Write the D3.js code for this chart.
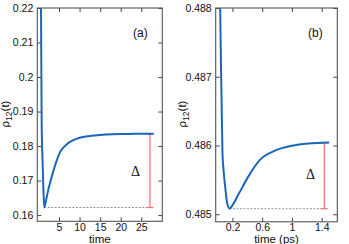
<!DOCTYPE html>
<html>
<head>
<meta charset="utf-8">
<script src="https://cdn.jsdelivr.net/npm/d3@7"></script>
<style>
body { margin: 0; background: #fff; }
svg text { font-family: "Liberation Sans", Arial, sans-serif; fill: #111; }
</style>
</head>
<body>
<div id="chart"></div>
<script>
// panel (a)
var timeA = [0.3, 0.62, 0.7, 0.8, 1.0, 1.2, 1.43, 1.8, 2.3, 2.8, 3.4, 4.0, 4.6, 5.2, 6.0, 6.9, 8, 10, 12.5, 15, 18, 22, 25, 28];
var rhoA  = [0.30, 0.2226, 0.205, 0.186, 0.176, 0.168, 0.1622, 0.1640, 0.1668, 0.1692, 0.1718, 0.1742, 0.1763, 0.1781, 0.1795, 0.1805, 0.1814, 0.1824, 0.1829, 0.1832, 0.1834, 0.1835, 0.1836, 0.1836];
var xTicksA = [5, 10, 15, 20, 25];
var yTicksA = [0.16, 0.17, 0.18, 0.19, 0.2, 0.21, 0.22];
var deltaA = {t: 27.1, top: 0.1835, bottom: 0.1622, tmin: 1.43};

// panel (b)
var timeB = [0.0, 0.035, 0.066, 0.084, 0.102, 0.129, 0.16, 0.2, 0.28, 0.415, 0.572, 0.773, 1.0, 1.22, 1.5];
var rhoB  = [0.4905, 0.4880, 0.48589, 0.48560, 0.485406, 0.485165, 0.485083, 0.48513, 0.485286, 0.485551, 0.485794, 0.485925, 0.485997, 0.48603, 0.486045];
var xTicksB = [0.2, 0.6, 1, 1.4];
var yTicksB = [0.485, 0.486, 0.487, 0.488];
var deltaB = {t: 1.435, top: 0.48604, bottom: 0.48508, tmin: 0.16};

const width = 349, height = 244;

const svg = d3.select("#chart").append("svg")
    .attr("width", width)
    .attr("height", height);

function panel(opt) {
    var x = d3.scaleLinear().domain(opt.xdom).range([opt.left, opt.right]);
    var y = d3.scaleLinear().domain(opt.ydom).range([opt.bottom, opt.top]);
    var g = svg.append("g");

    g.append("clipPath").attr("id", opt.id)
        .append("rect")
        .attr("x", opt.left).attr("y", opt.top)
        .attr("width", opt.right - opt.left).attr("height", opt.bottom - opt.top);

    // axes, ticks pointing inward
    var bottom = g.append("g").attr("transform", "translate(0," + opt.bottom + ")")
        .call(d3.axisBottom(x).tickValues(opt.xticks).tickSizeInner(-4).tickSizeOuter(0).tickPadding(2).tickFormat(d3.format("")));
    var topAx = g.append("g").attr("transform", "translate(0," + opt.top + ")")
        .call(d3.axisTop(x).tickValues(opt.xticks).tickSizeInner(-4).tickSizeOuter(0).tickFormat(""));
    var leftAx = g.append("g").attr("transform", "translate(" + opt.left + ",0)")
        .call(d3.axisLeft(y).tickValues(opt.yticks).tickSizeInner(-4).tickSizeOuter(0).tickPadding(4).tickFormat(d3.format("")));
    var rightAx = g.append("g").attr("transform", "translate(" + opt.right + ",0)")
        .call(d3.axisRight(y).tickValues(opt.yticks).tickSizeInner(-4).tickSizeOuter(0).tickFormat(""));

    [bottom, topAx, leftAx, rightAx].forEach(function(a) {
        a.select(".domain").remove();
        a.selectAll("line").attr("stroke", "#444");
        a.selectAll("text").style("font-size", "10.5px").attr("fill", "#111");
    });

    g.append("rect")
        .attr("x", opt.left).attr("y", opt.top)
        .attr("width", opt.right - opt.left).attr("height", opt.bottom - opt.top)
        .attr("fill", "none").attr("stroke", "#555").attr("stroke-width", 1.1);

    // dashed baseline at the minimum
    g.append("line")
        .attr("x1", x(opt.delta.tmin)).attr("x2", x(opt.delta.t))
        .attr("y1", y(opt.delta.bottom)).attr("y2", y(opt.delta.bottom))
        .attr("stroke", "#888").attr("stroke-width", 0.9).attr("stroke-dasharray", "2,1.5");

    // Delta bar
    var red = "#f27580";
    g.append("line")
        .attr("x1", x(opt.delta.t)).attr("x2", x(opt.delta.t))
        .attr("y1", y(opt.delta.top)).attr("y2", y(opt.delta.bottom))
        .attr("stroke", red).attr("stroke-width", 1.3);
    [opt.delta.top, opt.delta.bottom].forEach(function(v) {
        g.append("line")
            .attr("x1", x(opt.delta.t) - 3.5).attr("x2", x(opt.delta.t) + 3.5)
            .attr("y1", y(v)).attr("y2", y(v))
            .attr("stroke", red).attr("stroke-width", 1.3);
    });

    var line = d3.line()
        .x(function(d) { return x(d[0]); })
        .y(function(d) { return y(d[1]); })
        .curve(d3.curveMonotoneX);

    g.append("path")
        .datum(d3.zip(opt.tdata, opt.vdata))
        .attr("clip-path", "url(#" + opt.id + ")")
        .attr("d", line)
        .attr("fill", "none")
        .attr("stroke", "#1a66b8")
        .attr("stroke-width", 2);

    g.append("text")
        .attr("x", opt.deltaX).attr("y", opt.deltaY)
        .style("font-family", "'Liberation Serif', serif")
        .style("font-size", "14px")
        .text("\u0394");

    g.append("text")
        .attr("x", opt.labelX).attr("y", 37)
        .style("font-size", "12px")
        .text(opt.label);

    g.append("text")
        .attr("x", (opt.left + opt.right) / 2).attr("y", 242.5)
        .attr("text-anchor", "middle")
        .style("font-size", "11.5px")
        .text(opt.xlabel);

    var yl = g.append("text")
        .attr("transform", "translate(" + opt.ylabX + ",114) rotate(-90)")
        .attr("text-anchor", "middle")
        .style("font-size", "11.5px");
    yl.append("tspan").text("\u03c1");
    yl.append("tspan").attr("dy", 3).style("font-size", "8.5px").text("12");
    yl.append("tspan").attr("dy", -3).text("(t)");
}

panel({
    id: "clipA", left: 37.3, right: 162.3, top: 8, bottom: 221.3,
    xdom: [-0.27, 30.1], ydom: [0.1582, 0.22],
    xticks: xTicksA, yticks: yTicksA,
    tdata: timeA, vdata: rhoA, delta: deltaA,
    deltaX: 131, deltaY: 176, label: "(a)", labelX: 133,
    xlabel: "time", ylabX: 9
});

panel({
    id: "clipB", left: 215.7, right: 337.3, top: 8, bottom: 221.8,
    xdom: [-0.025, 1.61], ydom: [0.48489, 0.488],
    xticks: xTicksB, yticks: yTicksB,
    tdata: timeB, vdata: rhoB, delta: deltaB,
    deltaX: 306, deltaY: 179, label: "(b)", labelX: 308,
    xlabel: "time (ps)", ylabX: 186
});
</script>
</body>
</html>
